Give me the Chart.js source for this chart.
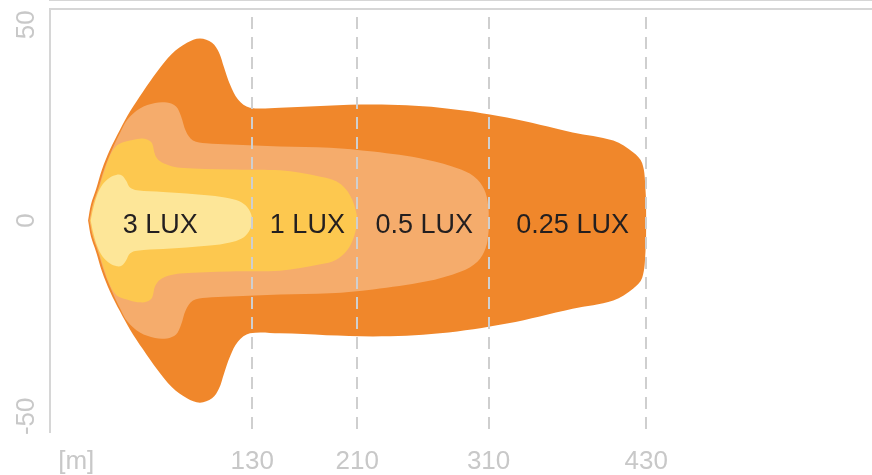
<!DOCTYPE html>
<html>
<head>
<meta charset="utf-8">
<script src="https://cdn.jsdelivr.net/npm/chart.js@4.4.1/dist/chart.umd.min.js"></script>
<style>
  html, body { margin: 0; padding: 0; background: #ffffff; }
  #wrap { width: 872px; height: 475px; }
</style>
</head>
<body>
<div id="wrap"><canvas id="beam"></canvas></div>
<script>
const xTickValues = [-4, 130, 210, 310, 430];
const xTickLabels = ['[m]', '130', '210', '310', '430'];
const yTickValues = [-50, 0, 50];

const luxNames = ['3 LUX', '1 LUX', '0.5 LUX', '0.25 LUX'];
const luxLabelX = [60, 172, 261, 374];
const luxLabelY = [-1.2, -1.2, -1.2, -1.2];

// each zone is a closed outline: lamp -> top edge -> far end -> bottom edge -> lamp
const lux3X = [7, 8.7, 12, 16, 21.7, 27, 30.8, 33.9, 36.9, 42.3, 62.1, 97.8, 113.1, 122, 127.5, 130,
  127.5, 122, 113.1, 97.8, 62.1, 42.3, 36.9, 33.9, 30.8, 27, 21.7, 16, 12, 8.7, 7];
const lux3Y = [0, 2.8, 6.6, 9.2, 11, 11.7, 11.5, 10.2, 8.4, 7.7, 7.3, 6.4, 5.6, 4.6, 2.8, 0,
  -2.8, -4.6, -5.6, -6.4, -7.3, -7.7, -8.4, -10.2, -11.5, -11.7, -11, -9.2, -6.6, -2.8, 0];

const lux1X = [6.5, 9, 13, 17.8, 20.5, 24, 28, 36.9, 44.5, 49.9, 53.7, 56, 59.8, 67.4, 75, 113.1, 151.2, 182, 194, 201.5, 206, 209, 210,
  209, 206, 201.5, 194, 182, 151.2, 113.1, 75, 67.4, 59.8, 56, 53.7, 49.9, 44.5, 36.9, 28, 24, 20.5, 17.8, 13, 9, 6.5];
const lux1Y = [0, 4.1, 7.9, 13, 15.6, 18, 19.4, 20.4, 20.9, 20.7, 19.7, 16.8, 15.1, 14, 13.5, 13, 12.8, 11.2, 10, 7.9, 5.4, 2.3, 0,
  -2.3, -5.4, -7.9, -10, -11.2, -12.8, -13, -13.5, -14, -15.1, -16.8, -19.7, -20.7, -20.9, -20.4, -19.4, -18, -15.6, -13, -7.9, -4.1, 0];

const lux05X = [6, 8.6, 12.5, 17.2, 23.3, 29.5, 35, 44.5, 56, 65.1, 72, 75.8, 79.6, 84.9, 94.8, 113.1, 151.2, 189.2, 222, 262, 289, 301.5, 307.7, 310, 310,
  310, 307.7, 301.5, 289, 262, 222, 189.2, 151.2, 113.1, 94.8, 84.9, 79.6, 75.8, 72, 65.1, 56, 44.5, 35, 29.5, 23.3, 17.2, 12.5, 8.6, 6];
const lux05Y = [0, 4.1, 7.9, 13, 18.1, 22.5, 25.8, 28.6, 30, 30.1, 29.1, 26.6, 22.7, 20.4, 19.7, 19.4, 18.9, 18.6, 17.6, 15.6, 13, 10.5, 7.1, 2.8, 0,
  -2.8, -7.1, -10.5, -13, -15.6, -17.6, -18.6, -18.9, -19.4, -19.7, -20.4, -22.7, -26.6, -29.1, -30.1, -30, -28.6, -25.8, -22.5, -18.1, -13, -7.9, -4.1, 0];

const lux025X = [5, 7.2, 11, 15.6, 21.7, 29.3, 36.9, 46.8, 57.5, 68.9, 80.3, 90.2, 99.4, 104.7, 108.5, 113.1, 119.2, 128.3, 151, 222, 273, 324, 374, 405, 420, 427, 429.5, 430,
  429.5, 427, 420, 405, 374, 324, 273, 222, 151, 128.3, 119.2, 113.1, 108.5, 104.7, 99.4, 90.2, 80.3, 68.9, 57.5, 46.8, 36.9, 29.3, 21.7, 15.6, 11, 7.2, 5];
const lux025Y = [0, 4.1, 7.9, 13, 18.1, 23.2, 27.8, 32.9, 38, 42.6, 45.4, 46.5, 45.4, 42.9, 39.1, 34.7, 30.9, 28.8, 28.8, 29.6, 28.8, 26.3, 22.5, 20.4, 17.4, 14.6, 7.9, 0,
  -7.9, -14.6, -17.4, -20.4, -22.5, -26.3, -28.8, -29.6, -28.8, -28.8, -30.9, -34.7, -39.1, -42.9, -45.4, -46.5, -45.4, -42.6, -38, -32.9, -27.8, -23.2, -18.1, -13, -7.9, -4.1, 0];

const zoneColors = ['#FDE698', '#FDC84F', '#F5AC6C', '#F0872B'];

const toPoints = (xs, ys) => xs.map((x, i) => ({ x, y: ys[i] }));

const zones = [
  toPoints(lux3X, lux3Y),
  toPoints(lux1X, lux1Y),
  toPoints(lux05X, lux05Y),
  toPoints(lux025X, lux025Y)
];

const tickFont = { family: '"Liberation Sans", Arial, sans-serif', size: 26 };
const frameColor = '#d6d6d6';

const zoneLabels = {
  id: 'zoneLabels',
  afterDatasetsDraw(chart) {
    const { ctx, scales: { x, y } } = chart;
    ctx.save();
    ctx.font = '27px "Liberation Sans", Arial, sans-serif';
    ctx.fillStyle = '#231f20';
    ctx.textAlign = 'center';
    ctx.textBaseline = 'middle';
    luxNames.forEach((name, i) => {
      ctx.fillText(name, x.getPixelForValue(luxLabelX[i]), y.getPixelForValue(luxLabelY[i]));
    });
    ctx.restore();
  }
};

new Chart(document.getElementById('beam'), {
  type: 'scatter',
  data: {
    datasets: zones.map((points, i) => ({
      label: luxNames[i],
      data: points,
      showLine: true,
      fill: 'shape',
      backgroundColor: zoneColors[i],
      borderColor: zoneColors[i],
      borderWidth: 0,
      pointRadius: 0,
      tension: 0.35
    }))
  },
  options: {
    responsive: true,
    maintainAspectRatio: false,
    animation: false,
    events: [],
    layout: { padding: { top: 9, right: 0, bottom: 0, left: 0 } },
    plugins: { legend: { display: false }, tooltip: { enabled: false } },
    scales: {
      x: {
        type: 'linear',
        min: -24,
        max: 602,
        afterBuildTicks: axis => { axis.ticks = xTickValues.map(value => ({ value })); },
        afterFit: axis => { axis.height = 43; axis.paddingLeft = 0; axis.paddingRight = 0; },
        ticks: {
          autoSkip: false,
          maxRotation: 0,
          padding: 14,
          color: '#c8c8c8',
          font: tickFont,
          callback: (value, index) => xTickLabels[index]
        },
        grid: {
          z: 1,
          drawTicks: false,
          lineWidth: 2,
          color: ctx => ctx.index === 0 ? 'rgba(0,0,0,0)' : '#cfcfcf'
        },
        border: { display: true, color: frameColor, width: 2, dash: [12, 8], dashOffset: 12 }
      },
      xTop: {
        type: 'linear',
        position: 'top',
        min: -24,
        max: 602,
        afterFit: axis => { axis.height = 0; axis.paddingLeft = 0; axis.paddingRight = 0; },
        ticks: { display: false },
        grid: { display: false, drawTicks: false },
        border: { display: true, color: frameColor, width: 2 }
      },
      y: {
        type: 'linear',
        min: -54,
        max: 54,
        afterBuildTicks: axis => { axis.ticks = yTickValues.map(value => ({ value })); },
        afterFit: axis => { axis.width = 50; axis.paddingTop = 0; axis.paddingBottom = 0; },
        ticks: {
          padding: 4,
          minRotation: 90,
          maxRotation: 90,
          crossAlign: 'center',
          color: '#c8c8c8',
          font: tickFont
        },
        grid: { display: false, drawTicks: false },
        border: { display: true, color: frameColor, width: 2 }
      }
    }
  },
  plugins: [zoneLabels]
});
</script>
</body>
</html>
